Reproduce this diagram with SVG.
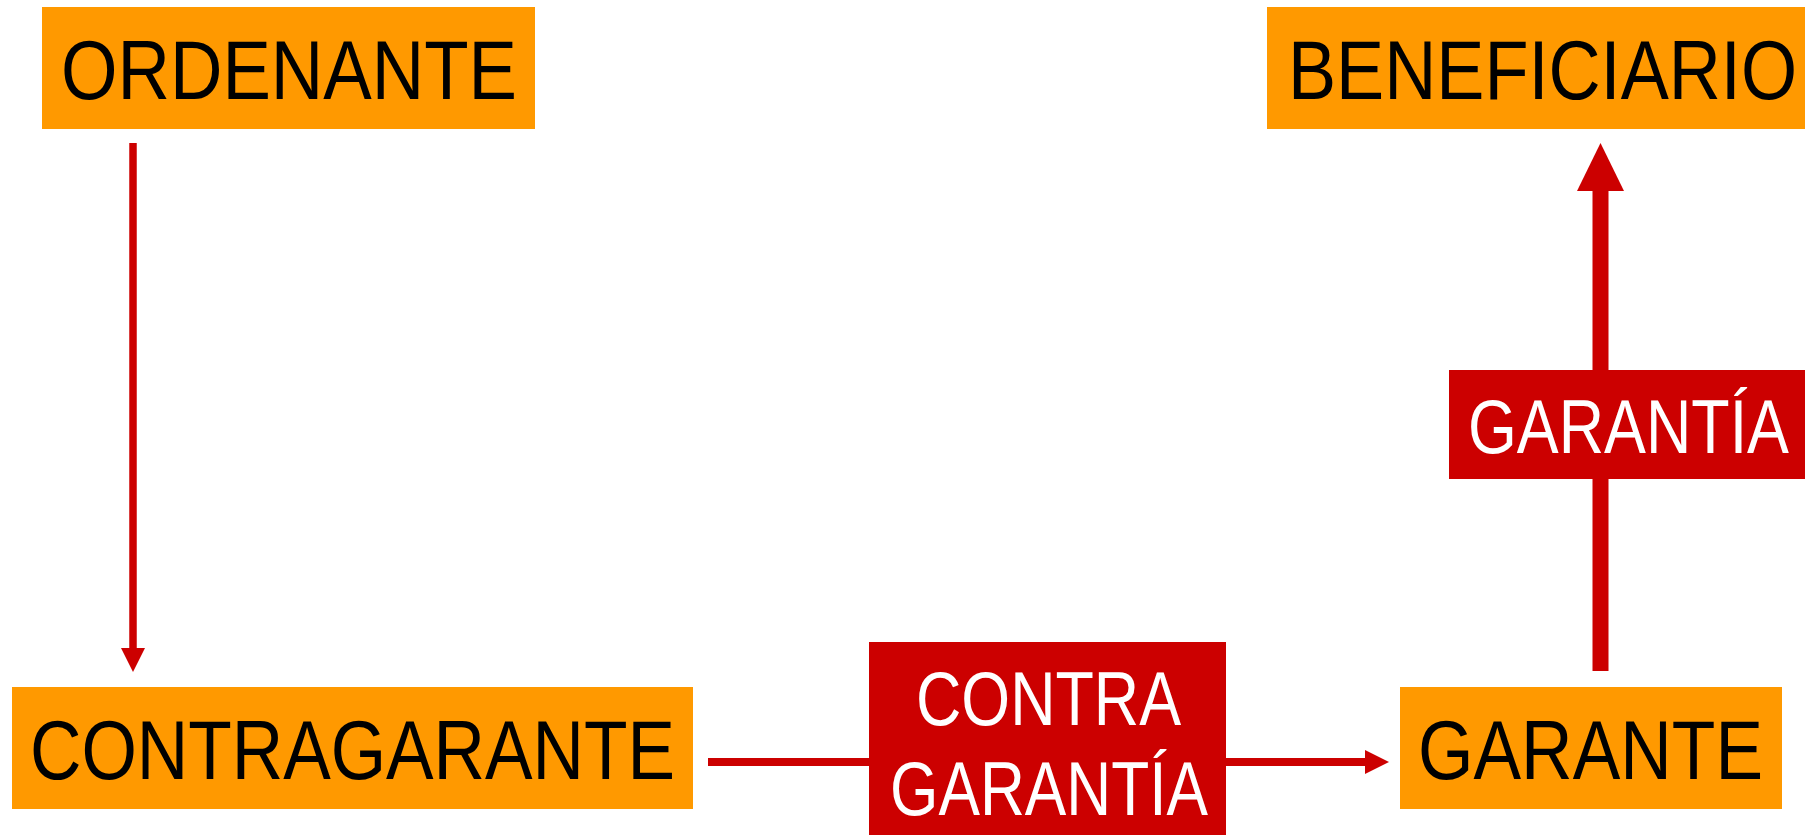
<svg xmlns="http://www.w3.org/2000/svg" width="1807" height="835" viewBox="0 0 1807 835">
<style>
.box{fill:#FF9900}
.lbl{fill:#CC0000}
.t{font-family:"Liberation Sans",Arial,sans-serif;font-size:83px;fill:#000}
.tw{font-family:"Liberation Sans",Arial,sans-serif;font-size:76px;fill:#fff}
.c{stroke:#CC0000;fill:none}
</style>
<defs>
<marker id="ahS" markerUnits="userSpaceOnUse" markerWidth="24" markerHeight="24" viewBox="0 0 24 24" refX="0" refY="12" orient="auto"><path d="M0,0 L24,12 L0,24 Z" fill="#CC0000"/></marker>
<marker id="ahL" markerUnits="userSpaceOnUse" markerWidth="48" markerHeight="48" viewBox="0 0 48 48" refX="0" refY="24" orient="auto"><path d="M0,0.5 L48,24 L0,47.5 Z" fill="#CC0000"/></marker>
</defs>
<rect width="1807" height="835" fill="#fff"/>
<g id="connectors">
<line class="c" x1="133" y1="143" x2="133" y2="648" stroke-width="7.5" marker-end="url(#ahS)"/>
<line class="c" x1="708" y1="762" x2="1365" y2="762" stroke-width="8" marker-end="url(#ahS)"/>
<line class="c" x1="1600.5" y1="671" x2="1600.5" y2="191" stroke-width="16" marker-end="url(#ahL)"/>
</g>
<g id="ordenante">
<rect class="box" x="42" y="7" width="493" height="122"/>
<text class="t" x="61" y="99" textLength="456" lengthAdjust="spacingAndGlyphs">ORDENANTE</text>
</g>
<g id="beneficiario">
<rect class="box" x="1267" y="7" width="538" height="122"/>
<text class="t" x="1288" y="99" textLength="509" lengthAdjust="spacingAndGlyphs">BENEFICIARIO</text>
</g>
<g id="contragarante">
<rect class="box" x="12" y="687" width="681" height="122"/>
<text class="t" x="30" y="779" textLength="645" lengthAdjust="spacingAndGlyphs">CONTRAGARANTE</text>
</g>
<g id="garante">
<rect class="box" x="1400" y="687" width="382" height="122"/>
<text class="t" x="1418" y="779" textLength="345" lengthAdjust="spacingAndGlyphs">GARANTE</text>
</g>
<g id="contragarantia">
<rect class="lbl" x="869" y="642" width="357" height="193"/>
<text class="tw" x="916" y="725" textLength="265" lengthAdjust="spacingAndGlyphs">CONTRA</text>
<text class="tw" x="890" y="815" textLength="318" lengthAdjust="spacingAndGlyphs">GARANTÍA</text>
</g>
<g id="garantia">
<rect class="lbl" x="1449" y="370" width="356" height="109"/>
<text class="tw" x="1468" y="453" textLength="321" lengthAdjust="spacingAndGlyphs">GARANTÍA</text>
</g>
</svg>
